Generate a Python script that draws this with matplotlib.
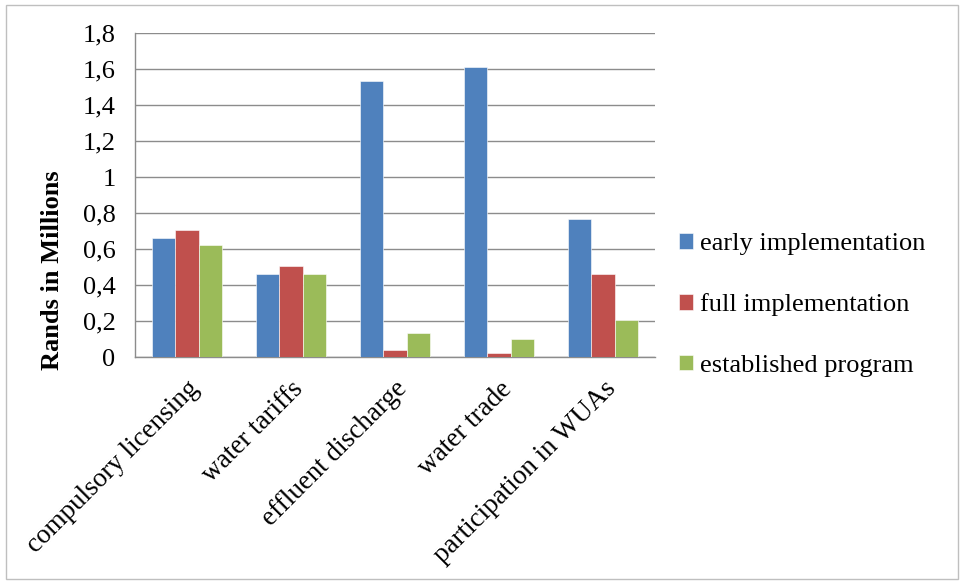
import matplotlib
matplotlib.use("Agg")
import matplotlib.pyplot as plt
import numpy as np
from matplotlib.patches import Rectangle

categories = ["compulsory licensing", "water tariffs", "effluent discharge",
              "water trade", "participation in WUAs"]
series_names = ["early implementation", "full implementation", "established program"]
early = [0.66, 0.46, 1.535, 1.61, 0.765]
full = [0.707, 0.506, 0.037, 0.022, 0.46]
established = [0.62, 0.463, 0.131, 0.10, 0.207]
yticks = [0, 0.2, 0.4, 0.6, 0.8, 1.0, 1.2, 1.4, 1.6, 1.8]
ytick_labels = ["0", "0,2", "0,4", "0,6", "0,8", "1", "1,2", "1,4", "1,6", "1,8"]
colors = ["#4F81BD", "#C0504D", "#9BBB59"]

plt.rcParams['font.family'] = ['Liberation Serif', 'DejaVu Serif']
FS = 19

W, H = 965, 583
fig = plt.figure(figsize=(W / 100, H / 100), dpi=100)
ax = fig.add_axes([135 / W, 1 - 357 / H, (655 - 135) / W, (357 - 33) / H])

x = np.arange(len(categories))
bw = 0.222
data = [early, full, established]
for i, (vals, c, name) in enumerate(zip(data, colors, series_names)):
    ax.bar(x + (i - 1) * bw, vals, width=bw, color=c, edgecolor="white",
           linewidth=0.4, label=name, zorder=3)

ax.set_xlim(-0.5, len(categories) - 0.5)
ax.set_ylim(0, 1.8)
ax.set_yticks(yticks)
ax.set_yticklabels(ytick_labels, fontsize=FS)
ax.yaxis.grid(True, color="#8C8C8C", linewidth=1.0, zorder=0)
ax.set_axisbelow(True)
ax.tick_params(axis="y", length=0, pad=14)
ax.tick_params(axis="x", length=0, pad=14)
ax.set_xticks(x)
ax.set_xticklabels(categories, fontsize=19.5, rotation=45, ha="right",
                   rotation_mode="anchor")
for s in ["top", "right"]:
    ax.spines[s].set_visible(False)
for s in ["left", "bottom"]:
    ax.spines[s].set_color("#8C8C8C")
    ax.spines[s].set_linewidth(1.0)

fig.text(53 / W, 1 - 270 / H, "Rands in Millions", rotation=90, fontsize=FS,
         fontweight="bold", ha="center", va="center")

leg = ax.legend(loc="center left", bbox_to_anchor=(679 / W, 1 - 305 / H),
                bbox_transform=fig.transFigure, frameon=False, fontsize=FS,
                handlelength=0.53, handleheight=0.53, handletextpad=0.25,
                labelspacing=1.45, borderaxespad=0, borderpad=0)

fig.patches.append(Rectangle((6 / W, 4 / H), (958 - 6) / W, (578 - 4) / H,
                             transform=fig.transFigure, fill=False,
                             edgecolor="#BFBFBF", linewidth=1.0))

fig.savefig("out.png", dpi=100)
